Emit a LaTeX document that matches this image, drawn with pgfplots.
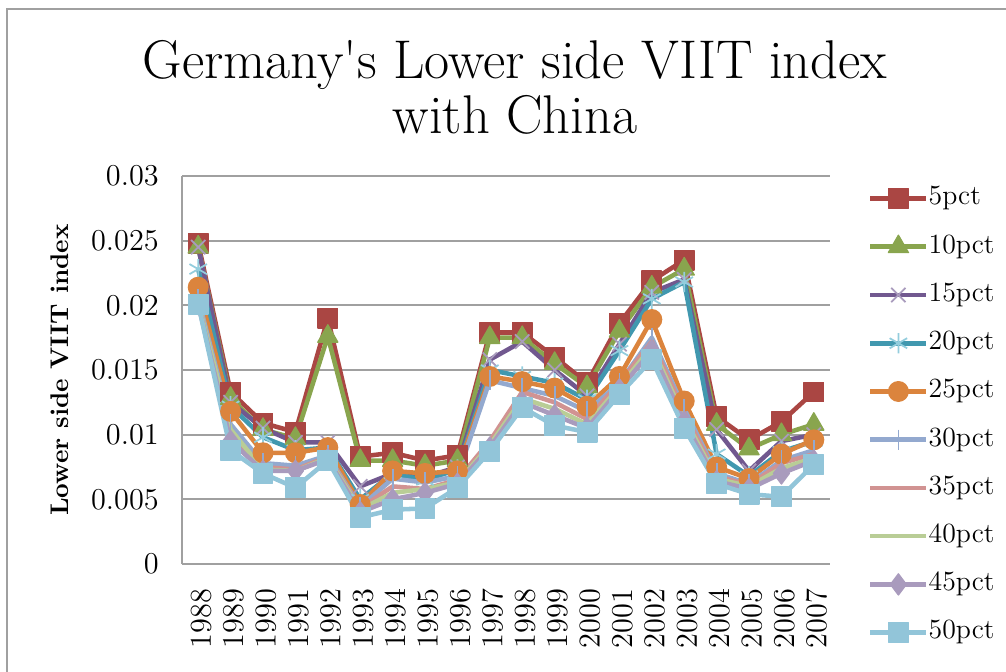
\documentclass[border=0pt]{standalone}
\usepackage{fontspec}
\usepackage{pgfplots}
\usepackage{pgfplotstable}
\pgfplotsset{compat=1.18}

\definecolor{c05}{HTML}{AA4643}
\definecolor{c10}{HTML}{89A54E}
\definecolor{c15}{HTML}{71588F}
\definecolor{c15m}{HTML}{A99BBD}
\definecolor{c20}{HTML}{4198AF}
\definecolor{c20m}{HTML}{93CDDD}
\definecolor{c25}{HTML}{DB843D}
\definecolor{c30}{HTML}{93A9CF}
\definecolor{c35}{HTML}{D19392}
\definecolor{c40}{HTML}{B9CD96}
\definecolor{c45}{HTML}{A99BBD}
\definecolor{c50}{HTML}{92C5D9}
\definecolor{gridc}{HTML}{A0A0A0}

\pgfplotstableread{
year p05    p10    p15    p20    p25    p30    p35    p40    p45    p50
1988 0.0248 0.0245 0.0245 0.0228 0.0214 0.0205 0.0203 0.0202 0.0201 0.0201
1989 0.0133 0.0128 0.0125 0.0122 0.0118 0.0108 0.0100 0.0104 0.0095 0.0088
1990 0.0109 0.0104 0.0105 0.0098 0.0086 0.0078 0.0075 0.0073 0.0072 0.0070
1991 0.0102 0.0097 0.0094 0.0088 0.0086 0.0076 0.0073 0.0072 0.0072 0.0059
1992 0.0190 0.0176 0.0094 0.0090 0.0090 0.0084 0.0083 0.0082 0.0081 0.0080
1993 0.0083 0.0080 0.0060 0.0050 0.0046 0.0044 0.0043 0.0042 0.0040 0.0036
1994 0.0086 0.0080 0.0070 0.0070 0.0072 0.0066 0.0060 0.0055 0.0050 0.0042
1995 0.0080 0.0076 0.0067 0.0065 0.0070 0.0063 0.0058 0.0058 0.0055 0.0043
1996 0.0084 0.0080 0.0075 0.0073 0.0072 0.0068 0.0065 0.0063 0.0062 0.0059
1997 0.0179 0.0175 0.0158 0.0150 0.0145 0.0142 0.0095 0.0092 0.0090 0.0087
1998 0.0179 0.0175 0.0172 0.0145 0.0141 0.0136 0.0133 0.0128 0.0125 0.0121
1999 0.0160 0.0155 0.0150 0.0140 0.0136 0.0130 0.0125 0.0120 0.0115 0.0107
2000 0.0140 0.0137 0.0130 0.0127 0.0122 0.0118 0.0112 0.0108 0.0105 0.0102
2001 0.0186 0.0180 0.0170 0.0165 0.0145 0.0140 0.0140 0.0137 0.0135 0.0131
2002 0.0219 0.0214 0.0210 0.0205 0.0189 0.0175 0.0172 0.0168 0.0165 0.0158
2003 0.0235 0.0228 0.0220 0.0218 0.0126 0.0120 0.0117 0.0113 0.0110 0.0105
2004 0.0114 0.0108 0.0104 0.0085 0.0075 0.0070 0.0068 0.0066 0.0064 0.0062
2005 0.0096 0.0089 0.0072 0.0068 0.0066 0.0062 0.0061 0.0060 0.0058 0.0054
2006 0.0110 0.0100 0.0095 0.0087 0.0085 0.0080 0.0078 0.0074 0.0070 0.0052
2007 0.0133 0.0108 0.0100 0.0095 0.0096 0.0088 0.0085 0.0082 0.0080 0.0077
}\viit

\begin{document}
\begin{tikzpicture}
\useasboundingbox (-2.533cm,-1.489cm) rectangle (11.467cm,7.849cm);
\draw[gridc, line width=1pt] (-2.435cm,-1.7cm) -- (-2.435cm,7.724cm) -- (11.7cm,7.724cm);
\begin{axis}[
  at={(0,0)}, anchor=south west,
  scale only axis, width=9.018cm, height=5.40cm,
  clip=false,
  xmin=1987.5, xmax=2007.5, ymin=0, ymax=0.03,
  xtick={1988,...,2007},
  ytick={0,0.005,0.01,0.015,0.02,0.025,0.03},
  scaled y ticks=false,
  yticklabel style={/pgf/number format/fixed,/pgf/number format/precision=3, xshift=-0.2cm},
  xticklabel style={/pgf/number format/1000 sep={}, rotate=90, anchor=east, xshift=-0.22cm, yshift=-0.04cm},
  tick label style={font=\fontsize{11.5}{13}\selectfont},
  major tick length=0pt,
  axis x line*=bottom, axis y line*=left,
  axis line style={gridc, line width=0.9pt},
  ymajorgrids, grid style={gridc, line width=0.9pt},
  ylabel={\textbf{Lower side VIIT index}},
  ylabel style={font=\fontsize{10.1}{12}\selectfont, at={(axis description cs:-0.188,0.5)}, anchor=center},
  every axis plot/.append style={line width=1.8pt, line join=round},
  legend cell align=left,
  legend style={draw=none, fill=none, font=\fontsize{11}{13}\selectfont,
    at={(axis description cs:1.058,0.979)}, anchor=north west,
    inner sep=0pt, row sep=8.1pt, column sep=0pt,
    nodes={inner sep=0pt, text height=8pt, text depth=3pt}},
  legend image code/.code={\draw[mark repeat=2,mark phase=2] plot coordinates {(0cm,0cm) (0.39cm,0cm) (0.78cm,0cm)};},
]
\addplot[c05, mark=square*, mark size=3.9pt, mark options={solid, fill=c05, line width=0.5pt}] table[x=year,y=p05] {\viit};
\addplot[c10, mark=triangle*, mark size=4.6pt, mark options={solid, fill=c10, line width=0.5pt}] table[x=year,y=p10] {\viit};
\addplot[c15, mark=x, mark size=4pt, mark options={solid, draw=c15m, line width=0.7pt}] table[x=year,y=p15] {\viit};
\addplot[c20, mark=asterisk, mark size=4pt, mark options={solid, draw=c20m, line width=0.7pt}] table[x=year,y=p20] {\viit};
\addplot[c25, mark=*, mark size=3.9pt, mark options={solid, fill=c25, line width=0.5pt}] table[x=year,y=p25] {\viit};
\addplot[c30, mark=|, mark size=4pt, mark options={solid, draw=c30, line width=0.7pt}] table[x=year,y=p30] {\viit};
\addplot[c35, no marks] table[x=year,y=p35] {\viit};
\addplot[c40, no marks] table[x=year,y=p40] {\viit};
\addplot[c45, mark=diamond*, mark size=4.2pt, mark options={solid, fill=c45, line width=0.5pt}] table[x=year,y=p45] {\viit};
\addplot[c50, mark=square*, mark size=3.9pt, mark options={solid, fill=c50, line width=0.5pt}] table[x=year,y=p50] {\viit};
\legend{5pct,10pct,15pct,20pct,25pct,30pct,35pct,40pct,45pct,50pct}
\end{axis}
\node[anchor=south, align=center, font=\fontsize{21.6}{21.8}\selectfont] at (4.634cm,5.86cm) {Germany\textquotesingle s Lower side VIIT index\\with China};
\end{tikzpicture}
\end{document}
